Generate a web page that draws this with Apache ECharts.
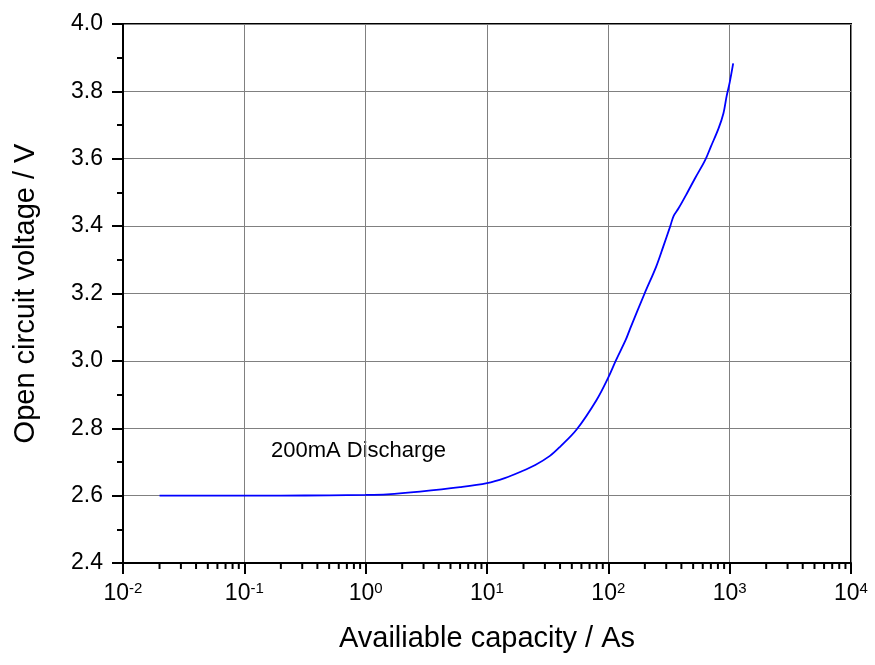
<!DOCTYPE html>
<html>
<head>
<meta charset="utf-8">
<script src="https://cdn.jsdelivr.net/npm/echarts@6/dist/echarts.min.js"></script>
<style>
  html, body { margin: 0; padding: 0; background: #fff; }
  #main { width: 875px; height: 665px; }
</style>
</head>
<body>
<div id="main"></div>
<script>
// capacity (As), voltage (V)
var capacity = [0.02, 0.05, 0.1, 0.2, 0.5, 1.0, 1.5, 2.8, 6, 10, 14, 19, 25, 33, 40, 55, 80,
                100, 115, 139, 151, 199, 248, 284, 324, 345, 379, 444, 520, 628, 700, 810,
                889, 944, 1000, 1069];
var voltage = [2.600, 2.600, 2.600, 2.600, 2.601, 2.602, 2.604, 2.612, 2.625, 2.637, 2.652, 2.671,
               2.691, 2.718, 2.745, 2.797, 2.884, 2.951, 3.000, 3.062, 3.095, 3.200, 3.280, 3.340,
               3.400, 3.430, 3.453, 3.497, 3.543, 3.596, 3.636, 3.690, 3.735, 3.786, 3.826, 3.883];
// minor ticks of the log axis: 2..9 in every decade
var decades = [-2, -1, 0, 1, 2, 3];
var minorSteps = [2, 3, 4, 5, 6, 7, 8, 9];

var minorTicks = [];
decades.forEach(function (d) {
    minorSteps.forEach(function (m) {
        minorTicks.push([m * Math.pow(10, d), 2.4]);
    });
});

var lineData = capacity.map(function (c, i) { return [c, voltage[i]]; });

var font = 'Arial, "Liberation Sans", sans-serif';
var chart = echarts.init(document.getElementById('main'));

var option = {
    animation: false,
    backgroundColor: '#fff',
    grid: {
        left: 123, right: 24, top: 24, bottom: 102,
        show: true,
        borderColor: '#000',
        borderWidth: 2
    },
    xAxis: {
        type: 'log',
        logBase: 10,
        min: 0.01,
        max: 10000,
        splitNumber: 6,
        name: 'Availiable capacity / As',
        nameLocation: 'middle',
        nameGap: 61,
        nameTextStyle: { fontFamily: font, fontSize: 29, color: '#000' },
        axisLine: { lineStyle: { color: '#000', width: 2 } },
        axisTick: { inside: false, length: 11, lineStyle: { color: '#000', width: 2 } },
        axisLabel: {
            margin: 18,
            fontFamily: font,
            formatter: function (v) {
                var e = Math.round(Math.log(v) / Math.LN10);
                return '{b|10}{s|' + e + '}';
            },
            rich: {
                b: { fontFamily: font, fontSize: 23, lineHeight: 26, color: '#000' },
                s: { fontFamily: font, fontSize: 15, verticalAlign: 'top', color: '#000' }
            }
        },
        splitLine: { show: true, lineStyle: { color: '#808080', width: 1 } }
    },
    yAxis: {
        type: 'value',
        min: 2.4,
        max: 4.0,
        interval: 0.2,
        name: 'Open circuit voltage / V',
        nameLocation: 'middle',
        nameGap: 83,
        nameTextStyle: { fontFamily: font, fontSize: 29, color: '#000' },
        axisLine: { show: true, lineStyle: { color: '#000', width: 2 } },
        axisTick: { show: true, inside: false, length: 11, lineStyle: { color: '#000', width: 2 } },
        minorTick: { show: true, splitNumber: 2, length: 6, lineStyle: { color: '#000', width: 2 } },
        axisLabel: {
            margin: 20,
            fontFamily: font,
            fontSize: 23,
            color: '#000',
            formatter: function (v) { return v.toFixed(1); }
        },
        splitLine: { show: true, lineStyle: { color: '#808080', width: 1 } }
    },
    graphic: [{
        type: 'text',
        left: 271,
        top: 440,
        style: { text: '200mA Discharge', font: '22px ' + font, fill: '#000' }
    }],
    series: [
        {
            type: 'line',
            data: lineData,
            showSymbol: false,
            smooth: 0.35,
            lineStyle: { color: '#0000ff', width: 1.8 },
            z: 3
        },
        {
            type: 'custom',
            clip: false,
            silent: true,
            data: minorTicks,
            renderItem: function (params, api) {
                var p = api.coord([api.value(0), api.value(1)]);
                return {
                    type: 'line',
                    shape: { x1: p[0], y1: p[1], x2: p[0], y2: p[1] + 6 },
                    style: { stroke: '#000', lineWidth: 2 }
                };
            }
        }
    ]
};
chart.setOption(option);
</script>
</body>
</html>
